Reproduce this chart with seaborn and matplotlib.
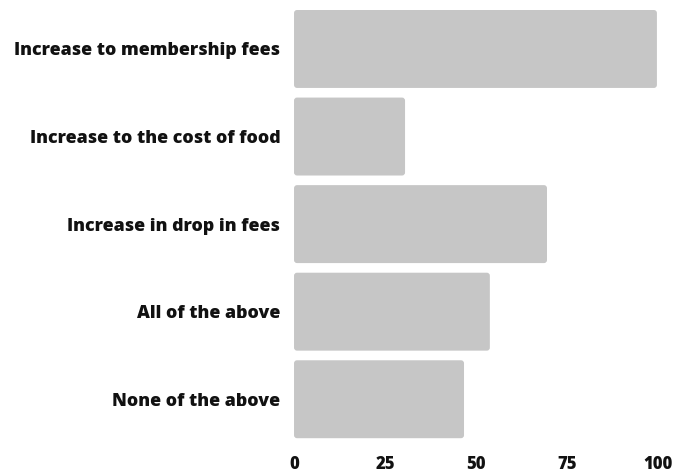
import matplotlib
matplotlib.use("Agg")
import matplotlib.pyplot as plt
from matplotlib.patches import FancyBboxPatch
import seaborn as sns
import pandas as pd

categories = ["Increase to membership fees", "Increase to the cost of food",
              "Increase in drop in fees", "All of the above", "None of the above"]
values = [99.7, 30.5, 69.5, 53.8, 46.7]
xticks = [0, 25, 50, 75, 100]

sns.set_theme(style="white")
plt.rcParams['font.family'] = ['Open Sans', 'DejaVu Sans']

df = pd.DataFrame({"category": categories, "value": values})

fig = plt.figure(figsize=(6.86, 4.72), dpi=100)
ax = fig.add_axes([0.4286, 0.0614, 0.5306, 0.9276])
sns.barplot(data=df, y="category", x="value", orient="h", color="#c6c6c6",
            saturation=1, width=0.89, ax=ax)
ax.set_xlim(0, 100)
ax.set_ylim(4.5, -0.5)

# soften bar corners slightly, keeping each bar's geometry from seaborn
bbox = ax.get_position()
w_px = bbox.width * fig.get_figwidth() * fig.dpi
h_px = bbox.height * fig.get_figheight() * fig.dpi
x_per_px = 100 / w_px
y_per_px = 5 / h_px
for p in list(ax.patches):
    x, y = p.get_x(), p.get_y()
    w, h = p.get_width(), p.get_height()
    fc = p.get_facecolor()
    p.remove()
    fb = FancyBboxPatch((x, y), w, h,
                        boxstyle=f"round,pad=0,rounding_size={3 * x_per_px}",
                        mutation_aspect=y_per_px / x_per_px,
                        facecolor=fc, edgecolor="none")
    ax.add_patch(fb)

ax.set_xticks(xticks)
ax.set_xticklabels([str(t) for t in xticks], fontsize=12, fontweight="heavy")
ax.set_yticks(range(len(categories)))
ax.set_yticklabels(categories, fontsize=12.8, fontweight="heavy")
ax.tick_params(axis="x", length=0, pad=9, colors="#111111")
ax.tick_params(axis="y", length=0, pad=10, colors="#111111")
ax.set_xlabel("")
ax.set_ylabel("")
for s in ax.spines.values():
    s.set_visible(False)
fig.savefig("out.png", dpi=100)
